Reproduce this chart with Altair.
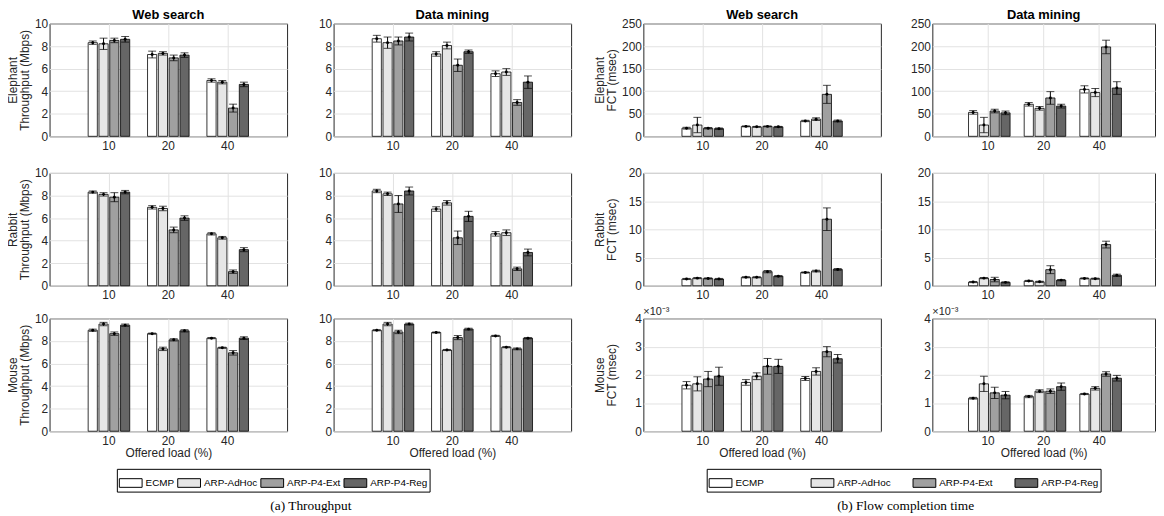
import altair as alt
import pandas as pd

loads = ["10", "20", "40"]
schemes = ["ECMP", "ARP-AdHoc", "ARP-P4-Ext", "ARP-P4-Reg"]
grays = ["#ffffff", "#e6e6e6", "#a0a0a0", "#666666"]

# ---- Throughput (Mbps): rows = load 10/20/40, cols = schemes ----
tp_web_elephant = [[8.3, 8.2, 8.5, 8.6], [7.25, 7.35, 6.95, 7.2], [4.95, 4.8, 2.5, 4.6]]
tp_web_elephant_err = [[0.15, 0.5, 0.2, 0.25], [0.3, 0.15, 0.25, 0.2], [0.15, 0.15, 0.35, 0.2]]
tp_dm_elephant = [[8.65, 8.3, 8.45, 8.8], [7.3, 8.05, 6.3, 7.5], [5.55, 5.7, 3.0, 4.8]]
tp_dm_elephant_err = [[0.3, 0.5, 0.35, 0.35], [0.2, 0.3, 0.55, 0.15], [0.25, 0.3, 0.25, 0.55]]
tp_web_rabbit = [[8.3, 8.1, 7.85, 8.3], [6.95, 6.85, 4.95, 6.0], [4.6, 4.25, 1.25, 3.2]]
tp_web_rabbit_err = [[0.1, 0.15, 0.4, 0.15], [0.15, 0.2, 0.25, 0.2], [0.1, 0.12, 0.15, 0.18]]
tp_dm_rabbit = [[8.4, 8.15, 7.25, 8.4], [6.8, 7.35, 4.25, 6.15], [4.6, 4.7, 1.5, 2.95]]
tp_dm_rabbit_err = [[0.15, 0.15, 0.75, 0.35], [0.2, 0.2, 0.6, 0.45], [0.2, 0.25, 0.15, 0.3]]
tp_web_mouse = [[8.95, 9.5, 8.65, 9.4], [8.65, 7.3, 8.1, 8.9], [8.25, 7.4, 6.95, 8.25]]
tp_web_mouse_err = [[0.1, 0.15, 0.15, 0.1], [0.05, 0.15, 0.1, 0.1], [0.05, 0.05, 0.2, 0.12]]
tp_dm_mouse = [[8.95, 9.5, 8.8, 9.5], [8.75, 7.2, 8.3, 9.05], [8.45, 7.45, 7.3, 8.25]]
tp_dm_mouse_err = [[0.05, 0.15, 0.15, 0.08], [0.05, 0.05, 0.18, 0.08], [0.05, 0.05, 0.08, 0.05]]

# ---- Flow completion time (msec) ----
fct_web_elephant = [[18, 25, 18, 17], [22, 21, 22, 21], [34, 38, 93, 34]]
fct_web_elephant_err = [[2, 17, 1.5, 1.5], [1, 1, 1, 1], [1.5, 3, 20, 2]]
fct_dm_elephant = [[53, 25, 56, 52], [71, 62, 85, 67], [104, 97, 198, 107]]
fct_dm_elephant_err = [[4, 17, 4, 4], [4, 4, 14, 4], [8, 9, 15, 14]]
fct_web_rabbit = [[1.2, 1.35, 1.3, 1.2], [1.5, 1.5, 2.5, 1.7], [2.35, 2.6, 11.8, 2.9]]
fct_web_rabbit_err = [[0.1, 0.1, 0.1, 0.1], [0.1, 0.1, 0.2, 0.1], [0.1, 0.15, 2.0, 0.15]]
fct_dm_rabbit = [[0.65, 1.35, 1.1, 0.6], [0.85, 0.7, 2.85, 1.0], [1.3, 1.25, 7.3, 1.85]]
fct_dm_rabbit_err = [[0.1, 0.1, 0.4, 0.1], [0.1, 0.1, 0.7, 0.1], [0.1, 0.1, 0.6, 0.2]]
# mouse FCT in units of 1e-3 msec
fct_web_mouse = [[1.63, 1.68, 1.85, 1.95], [1.73, 1.95, 2.3, 2.3], [1.87, 2.12, 2.82, 2.57]]
fct_web_mouse_err = [[0.13, 0.25, 0.27, 0.32], [0.1, 0.12, 0.28, 0.25], [0.07, 0.13, 0.18, 0.15]]
fct_dm_mouse = [[1.17, 1.68, 1.36, 1.28], [1.23, 1.42, 1.42, 1.58], [1.32, 1.52, 2.03, 1.88]]
fct_dm_mouse_err = [[0.03, 0.27, 0.2, 0.13], [0.04, 0.05, 0.08, 0.13], [0.02, 0.06, 0.08, 0.1]]

H = 114
FONT = "Liberation Sans"
TXT = "#262626"


def panel(means, errs, ymax, ystep, ext, ytitle=None, title=None, xtitle=None,
          mult=None, width=240):
    rows = []
    for i, load in enumerate(loads):
        for j, s in enumerate(schemes):
            m = means[i][j]
            e = errs[i][j]
            rows.append(dict(load=load, scheme=s, mean=m, lo=m - e, hi=m + e))
    df = pd.DataFrame(rows)
    xaxis = alt.Axis(title=xtitle, labelAngle=0, bandPosition=0.5, grid=True,
                     ticks=False, domain=False, labelPadding=4, titlePadding=2)
    x = alt.X("load:N", scale=alt.Scale(domain=loads, paddingInner=0.3, paddingOuter=0.65),
              axis=xaxis)
    xo = alt.XOffset("scheme:N", scale=alt.Scale(domain=schemes, paddingInner=0.15))
    vals = list(range(0, ymax + 1, ystep))
    if ytitle is not None:
        yaxis = alt.Axis(title=ytitle, values=vals, grid=True, ticks=False, domain=False,
                         labelPadding=2, titlePadding=3, minExtent=ext, maxExtent=ext,
                         titleLineHeight=12.5)
    else:
        yaxis = alt.Axis(title="x", titleFontSize=1, titleOpacity=0, titlePadding=0,
                         values=vals, grid=True, ticks=False, domain=False,
                         labelPadding=2, minExtent=ext, maxExtent=ext)
    ysc = alt.Scale(domain=[0, ymax], nice=False, zero=True)

    def Y(f):
        return alt.Y(f, scale=ysc, axis=yaxis)

    base = alt.Chart(df).encode(x=x, xOffset=xo)
    fill = alt.Fill("scheme:N", scale=alt.Scale(domain=schemes, range=grays), legend=None)
    bars = base.mark_bar(stroke="black", strokeWidth=0.8).encode(y=Y("mean:Q"), fill=fill)
    rule = base.mark_rule(color="black", strokeWidth=1).encode(y=Y("lo:Q"), y2="hi:Q")
    cap_lo = base.mark_tick(orient="horizontal", size=8, thickness=1, color="black").encode(y=Y("lo:Q"))
    cap_hi = base.mark_tick(orient="horizontal", size=8, thickness=1, color="black").encode(y=Y("hi:Q"))
    pts = base.mark_point(filled=True, size=9, color="black", opacity=1).encode(y=Y("mean:Q"))
    layers = [bars, rule, cap_lo, cap_hi, pts]
    if mult is not None:
        layers.append(alt.Chart(pd.DataFrame({"t": [mult]})).mark_text(
            align="left", baseline="bottom", fontSize=11, font=FONT, color=TXT
        ).encode(x=alt.value(0), y=alt.value(-1), text="t:N"))
    ch = alt.layer(*layers).properties(width=width, height=H)
    if title is not None:
        ch = ch.properties(title=alt.TitleParams(title, fontSize=13, fontWeight="bold",
                                                  font=FONT, color="black", offset=-4))
    return ch


def legend_block(lx, ly, caption, cx, cy, grid_align, col_pad):
    df = pd.DataFrame({"scheme": schemes})
    leg = alt.Legend(title=None, orient="none", legendX=lx, legendY=ly, direction="horizontal",
                     strokeColor="black", fillColor="white", padding=2,
                     symbolType="M-1,-0.38H1V0.38H-1Z", symbolSize=529,
                     symbolStrokeColor="black", symbolStrokeWidth=1, symbolOpacity=1,
                     labelFont=FONT, labelFontSize=10, labelColor="black",
                     labelOffset=3, columnPadding=col_pad, gridAlign=grid_align)
    pts = alt.Chart(df).mark_point(filled=True, opacity=0).encode(
        x=alt.value(0), y=alt.value(0),
        color=alt.Color("scheme:N", scale=alt.Scale(domain=schemes, range=grays), legend=leg))
    cap = alt.Chart(pd.DataFrame({"t": [caption]})).mark_text(
        align="center", baseline="middle", fontSize=13.5, font="Liberation Serif", color="black"
    ).encode(x=alt.value(cx), y=alt.value(cy), text="t:N")
    return alt.layer(pts, cap).properties(width=300, height=36,
                                          view=alt.ViewBackground(stroke=None))


TPE = 15
FCE = 22

left_rows12 = alt.vconcat(
    alt.hconcat(
        panel(tp_web_elephant, tp_web_elephant_err, 10, 2, TPE, ["Elephant", "Throughput (Mbps)"], title="Web search"),
        panel(tp_dm_elephant, tp_dm_elephant_err, 10, 2, TPE, title="Data mining"), spacing=29),
    alt.hconcat(
        panel(tp_web_rabbit, tp_web_rabbit_err, 10, 2, TPE, ["Rabbit", "Throughput (Mbps)"]),
        panel(tp_dm_rabbit, tp_dm_rabbit_err, 10, 2, TPE), spacing=29),
    spacing=14)
left_plots = alt.vconcat(
    left_rows12,
    alt.hconcat(
        panel(tp_web_mouse, tp_web_mouse_err, 10, 2, TPE, ["Mouse", "Throughput (Mbps)"],
              xtitle="Offered load (%)"),
        panel(tp_dm_mouse, tp_dm_mouse_err, 10, 2, TPE, xtitle="Offered load (%)"), spacing=29),
    spacing=10)
left = alt.vconcat(left_plots,
                   legend_block(68, 450, "(a) Throughput", 264, 38, "each", 1), spacing=6)

right_rows12 = alt.vconcat(
    alt.hconcat(
        panel(fct_web_elephant, fct_web_elephant_err, 250, 50, FCE, ["Elephant", "FCT (msec)"], title="Web search"),
        panel(fct_dm_elephant, fct_dm_elephant_err, 250, 50, FCE, title="Data mining", width=225), spacing=27),
    alt.hconcat(
        panel(fct_web_rabbit, fct_web_rabbit_err, 20, 5, FCE, ["Rabbit", "FCT (msec)"]),
        panel(fct_dm_rabbit, fct_dm_rabbit_err, 20, 5, FCE, width=225), spacing=27),
    spacing=14)
right_plots = alt.vconcat(
    right_rows12,
    alt.hconcat(
        panel(fct_web_mouse, fct_web_mouse_err, 4, 1, FCE, ["Mouse", "FCT (msec)"],
              xtitle="Offered load (%)", mult="×10⁻³"),
        panel(fct_dm_mouse, fct_dm_mouse_err, 4, 1, FCE, xtitle="Offered load (%)", mult="×10⁻³",
              width=225), spacing=27),
    spacing=4)
right = alt.vconcat(right_plots,
                    legend_block(64, 450, "(b) Flow completion time", 265, 38, "all", 16), spacing=6)

chart = alt.hconcat(left, right, spacing=21).resolve_scale(
    color="independent").resolve_legend(color="independent").properties(
    padding={"left": -2, "top": -3, "right": 0, "bottom": 0}
).configure_view(stroke=TXT, strokeWidth=1).configure_axis(
    labelFont=FONT, labelFontSize=12, labelColor=TXT,
    titleFont=FONT, titleFontSize=12, titleFontWeight="normal", titleColor=TXT,
    gridColor="#e2e2e2", gridWidth=1
)

chart.save("out.html", embed_options={"renderer": "svg", "actions": False})
